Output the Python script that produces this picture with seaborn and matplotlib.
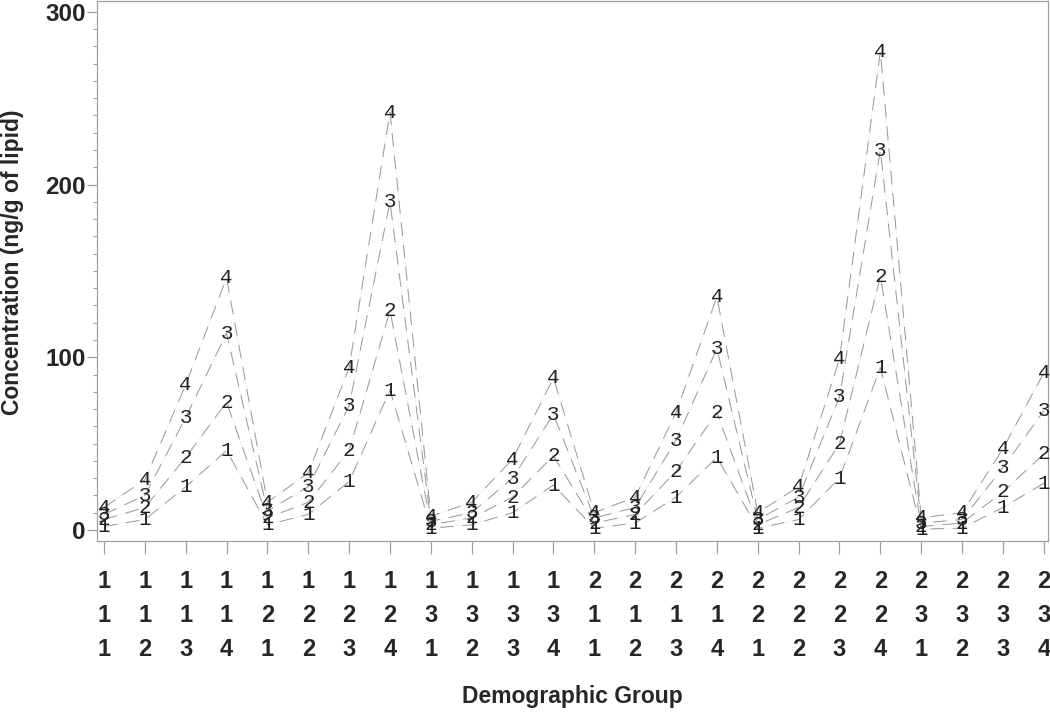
import pandas as pd
import matplotlib
matplotlib.use("Agg")
import matplotlib.pyplot as plt
import seaborn as sns
from matplotlib.ticker import MultipleLocator

# x axis: 24 demographic groups, three-row tick labels
row1 = [1]*12 + [2]*12
row2 = [1, 1, 1, 1, 2, 2, 2, 2, 3, 3, 3, 3] * 2
row3 = [1, 2, 3, 4] * 6

# concentration (ng/g of lipid) for the 4 series
series_1 = [2, 6, 25, 46, 3, 9, 28, 81, 1, 3, 10, 26, 1, 4, 19, 42, 1, 6, 30, 94, 0.5, 1, 13, 27]
series_2 = [6, 13, 42, 74, 7, 16, 46, 127, 3, 7, 19, 43, 4, 9, 34, 68, 3, 13, 50, 147, 2, 4, 22, 44]
series_3 = [9, 20, 65, 114, 11, 25, 72, 190, 5, 10, 30, 67, 7, 13, 52, 105, 6, 19, 77, 220, 4, 6, 36, 69]
series_4 = [13, 29, 84, 146, 16, 33, 94, 242, 8, 16, 41, 88, 10, 19, 68, 135, 10, 25, 99, 277, 7, 10, 47, 91]
series_names = ['1', '2', '3', '4']

groups = list(range(len(row1)))
tick_labels = [f"{a}\n{b}\n{c}" for a, b, c in zip(row1, row2, row3)]

rows = []
for name, vals in zip(series_names, [series_1, series_2, series_3, series_4]):
    for g, v in zip(groups, vals):
        rows.append({'group': g, 'value': v, 'series': name})
df = pd.DataFrame(rows)

sns.set_style('ticks')
plt.rcParams['font.family'] = ['Liberation Sans', 'DejaVu Sans']

fig = plt.figure(figsize=(10.5, 7.12), dpi=100)
ax = fig.add_axes([0.0924, 0.2402, 0.9056, 0.7584])

# faint dotted trace under the dashed lines
sns.lineplot(data=df, x='group', y='value', hue='series', palette=['#e6e6e6']*4,
             linewidth=0.8, linestyle=':', legend=False, ax=ax)
sns.lineplot(data=df, x='group', y='value', hue='series', style='series',
             palette=['#999999']*4, dashes=[(14, 9)]*4, linewidth=0.7,
             legend=False, ax=ax)

# numbered text markers
for name, vals in zip(series_names, [series_1, series_2, series_3, series_4]):
    for g, v in zip(groups, vals):
        ax.text(g, v, name, ha='center', va='center', fontsize=15,
                family='Liberation Mono', color='#222222')

ax.set_xlim(-0.17, 23.1)
ax.set_ylim(-6.4, 306.3)
ax.set_xticks(groups)
ax.set_xticklabels(tick_labels, fontsize=17, fontweight='bold', linespacing=1.62)
ax.set_yticks([0, 100, 200, 300])
ax.set_yticklabels(['0', '100', '200', '300'], fontsize=17.5, fontweight='bold')
ax.yaxis.set_minor_locator(MultipleLocator(10))

for s in ax.spines.values():
    s.set_color('#a0a0a0')
    s.set_linewidth(0.9)
ax.tick_params(axis='x', length=9, width=0.9, color='#a0a0a0', pad=12)
ax.tick_params(axis='y', which='major', length=7, width=0.9, color='#a0a0a0', pad=1)
ax.tick_params(axis='y', which='minor', length=3, width=0.8, color='#a0a0a0')

ax.set_xlabel('Demographic Group', fontsize=16.5, fontweight='bold')
ax.set_ylabel('Concentration (ng/g of lipid)', fontsize=16.5, fontweight='bold')
ax.xaxis.set_label_coords(0.5, -0.267)
ax.yaxis.set_label_coords(-0.077, 0.517)

fig.savefig('out.png', dpi=100)
